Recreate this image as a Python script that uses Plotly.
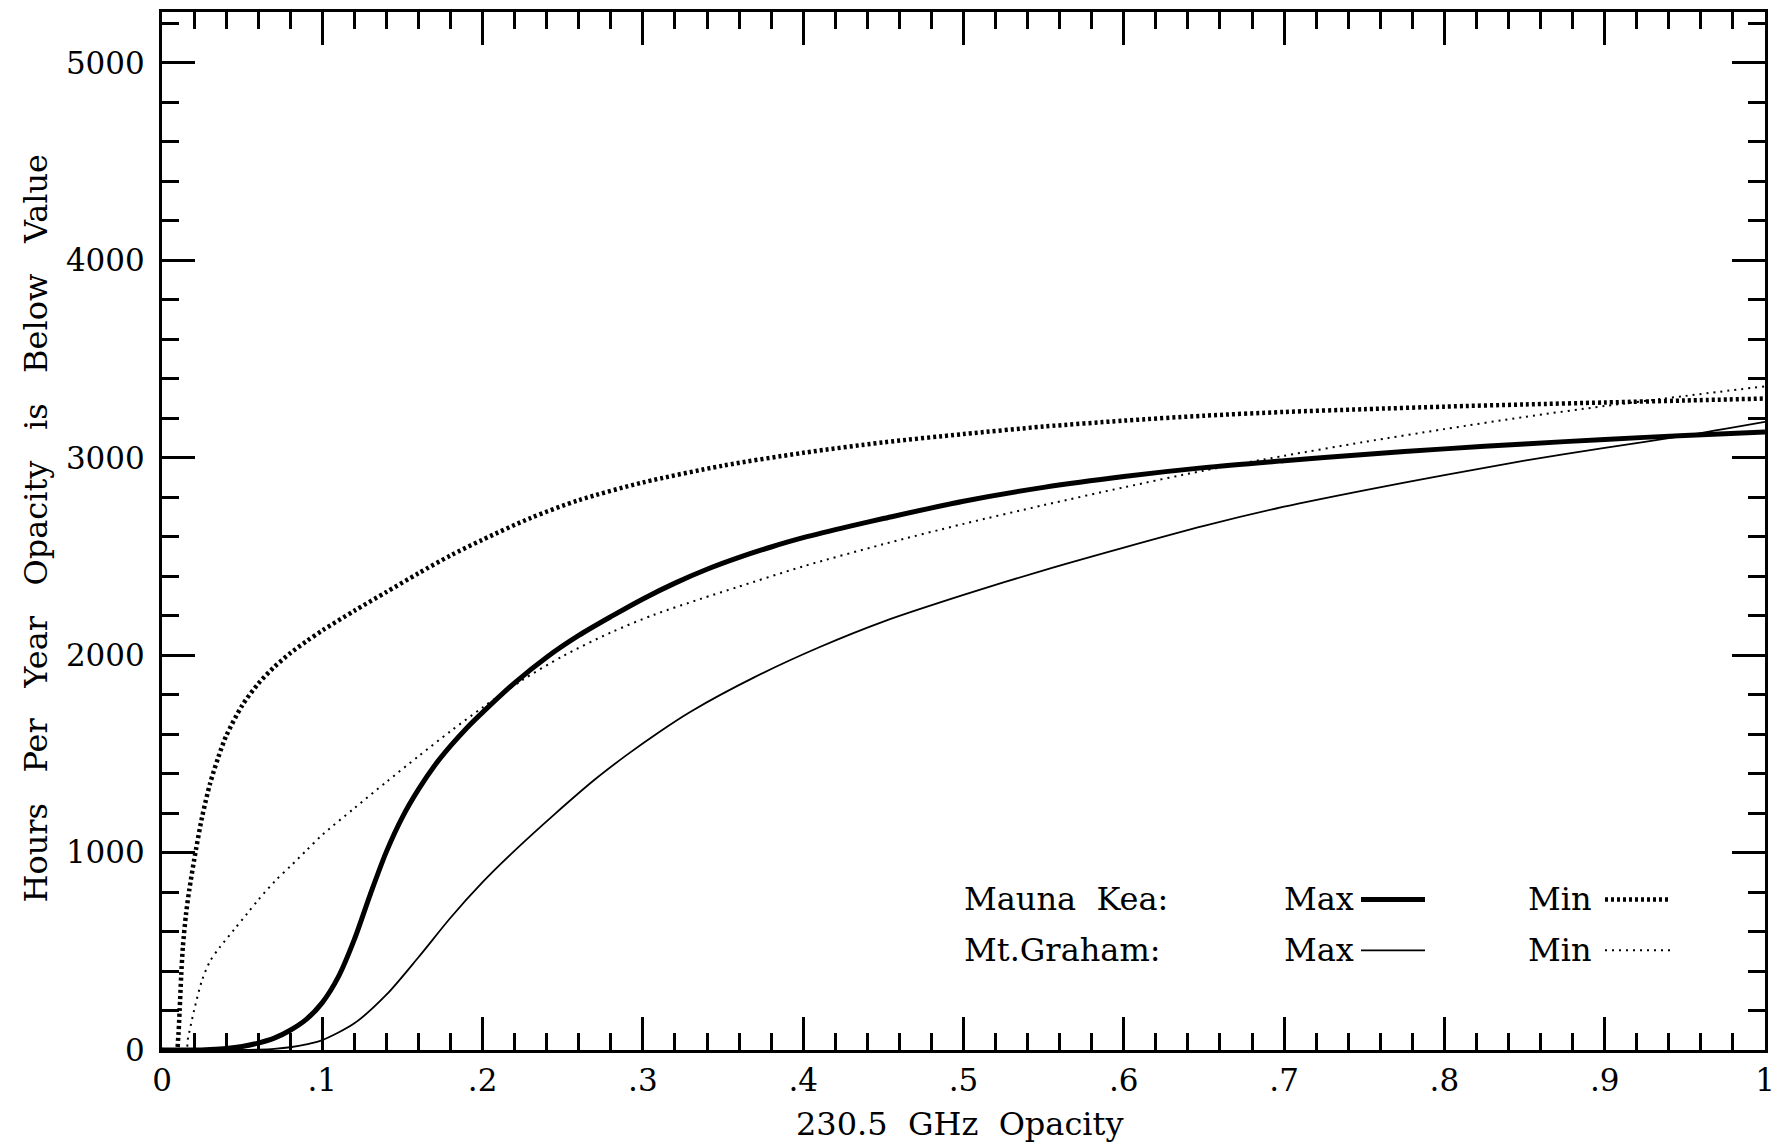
import plotly.graph_objects as go

# Cumulative hours per year with 230.5 GHz opacity below a given value
# Mauna Kea, maximum
mk_max_tau = [0.0, 0.02, 0.03, 0.04, 0.05, 0.06, 0.07, 0.08, 0.09, 0.10, 0.11, 0.12, 0.13,
              0.14, 0.15, 0.16, 0.17, 0.18, 0.19, 0.20, 0.22, 0.24, 0.26, 0.28, 0.30, 0.32,
              0.34, 0.36, 0.38, 0.40, 0.43, 0.45, 0.50, 0.55, 0.60, 0.65, 0.70, 0.75, 0.80,
              0.85, 0.90, 0.95, 1.00]
mk_max_hrs = [0, 0, 3, 8, 18, 35, 60, 100, 155, 240, 370, 560, 790,
              1005, 1180, 1320, 1440, 1540, 1630, 1710, 1860, 1990, 2100, 2195, 2285, 2365,
              2435, 2495, 2548, 2595, 2655, 2692, 2780, 2850, 2905, 2950, 2985, 3017, 3045,
              3070, 3093, 3113, 3131]

# Mauna Kea, minimum
mk_min_tau = [0.0, 0.009, 0.010, 0.011, 0.012, 0.013, 0.015, 0.017, 0.020, 0.025, 0.030,
              0.035, 0.040, 0.050, 0.060, 0.070, 0.080, 0.090, 0.100, 0.120, 0.140, 0.160,
              0.180, 0.200, 0.230, 0.260, 0.300, 0.350, 0.400, 0.450, 0.500, 0.550, 0.600,
              0.650, 0.700, 0.750, 0.800, 0.850, 0.900, 0.950, 1.000]
mk_min_hrs = [0, 0, 50, 200, 380, 520, 690, 810, 960, 1180, 1350,
              1480, 1590, 1745, 1855, 1940, 2010, 2070, 2125, 2225, 2320, 2415,
              2505, 2585, 2695, 2785, 2875, 2960, 3025, 3078, 3120, 3158, 3188,
              3213, 3232, 3246, 3259, 3270, 3280, 3290, 3300]

# Mt. Graham, maximum
mg_max_tau = [0.0, 0.05, 0.06, 0.07, 0.08, 0.09, 0.10, 0.12, 0.14, 0.16, 0.18, 0.20, 0.22,
              0.245, 0.27, 0.29, 0.31, 0.33, 0.37, 0.41, 0.45, 0.50, 0.55, 0.60, 0.65, 0.70,
              0.75, 0.80, 0.85, 0.90, 0.95, 1.00]
mg_max_hrs = [0, 0, 2, 6, 14, 28, 50, 135, 280, 470, 670, 850, 1010,
              1195, 1370, 1495, 1610, 1715, 1890, 2040, 2170, 2305, 2430, 2545, 2655, 2752,
              2835, 2912, 2985, 3050, 3112, 3182]

# Mt. Graham, minimum
mg_min_tau = [0.0, 0.015, 0.016, 0.020, 0.025, 0.030, 0.036, 0.045, 0.053, 0.060, 0.071,
              0.080, 0.090, 0.100, 0.120, 0.140, 0.160, 0.180, 0.200, 0.225, 0.250, 0.280,
              0.307, 0.336, 0.359, 0.40, 0.45, 0.50, 0.55, 0.60, 0.65, 0.70, 0.75, 0.80,
              0.85, 0.90, 0.95, 1.00]
mg_min_hrs = [0, 0, 50, 200, 354, 450, 520, 610, 690, 760, 860,
              930, 1010, 1090, 1225, 1358, 1488, 1615, 1735, 1875, 1995, 2115,
              2205, 2285, 2345, 2450, 2562, 2665, 2760, 2850, 2935, 3010, 3080, 3145,
              3207, 3262, 3313, 3362]

x_tick_vals = [0, 0.1, 0.2, 0.3, 0.4, 0.5, 0.6, 0.7, 0.8, 0.9, 1.0]
x_tick_text = ["0", ".1", ".2", ".3", ".4", ".5", ".6", ".7", ".8", ".9", "1"]
y_tick_vals = [0, 1000, 2000, 3000, 4000, 5000]

FONT = "DejaVu Serif"
INK = "black"
GAP = "\u00a0\u00a0 "

# line styles for the four series
styles = {
    "mk_max": dict(color=INK, width=5, dash="solid"),
    "mk_min": dict(color=INK, width=4.5, dash="3px,3px"),
    "mg_max": dict(color=INK, width=1.8, dash="solid"),
    "mg_min": dict(color=INK, width=2, dash="2px,5px"),
}

fig = go.Figure()
for tau, hrs, key in [
    (mg_max_tau, mg_max_hrs, "mg_max"),
    (mg_min_tau, mg_min_hrs, "mg_min"),
    (mk_max_tau, mk_max_hrs, "mk_max"),
    (mk_min_tau, mk_min_hrs, "mk_min"),
]:
    fig.add_trace(go.Scatter(x=tau, y=hrs, mode="lines", line=styles[key],
                             line_shape="spline", line_smoothing=0.8,
                             showlegend=False, hoverinfo="skip"))

axis_common = dict(
    showline=True, linecolor=INK, linewidth=3, mirror="allticks",
    ticks="inside", tickcolor=INK, tickwidth=2.5, ticklen=33,
    showgrid=False, zeroline=False,
    tickfont=dict(family=FONT, size=31, color=INK),
)

fig.update_xaxes(
    range=[0, 1], tickmode="array", tickvals=x_tick_vals, ticktext=x_tick_text,
    ticklabelstandoff=1,
    minor=dict(tickmode="linear", tick0=0, dtick=0.02, ticks="inside", ticklen=17,
               tickwidth=2.5, tickcolor=INK, showgrid=False),
    **axis_common,
)
fig.update_yaxes(
    range=[0, 5258], tickmode="array", tickvals=y_tick_vals,
    ticktext=[str(v) for v in y_tick_vals], ticklabelstandoff=8,
    minor=dict(tickmode="linear", tick0=0, dtick=200, ticks="inside", ticklen=17,
               tickwidth=2.5, tickcolor=INK, showgrid=False),
    **axis_common,
)

L, R, T, B = 162, 26, 9, 97
W, H = 1791, 1147
pw, ph = W - L - R, H - T - B


def px(x):
    return (x - L) / pw


def py(y):
    return (H - B - y) / ph


annotations = [
    dict(text="230.5\u00a0 GHz\u00a0 Opacity", x=px(960), y=py(1124), xref="paper", yref="paper",
         showarrow=False, xanchor="center", yanchor="middle",
         font=dict(family=FONT, size=32, color=INK)),
    dict(text=GAP.join(["Hours", "Per", "Year", "Opacity", "is", "Below", "Value"]),
         x=px(36), y=py(527), xref="paper", yref="paper", textangle=-90,
         showarrow=False, xanchor="center", yanchor="middle",
         font=dict(family=FONT, size=32, color=INK)),
]

legend_font = dict(family=FONT, size=32, color=INK)
rows = [("Mauna\u00a0 Kea:", 899, "mk_max", "mk_min"),
        ("Mt.Graham:", 950, "mg_max", "mg_min")]
shapes = []
for label, yy, kmax, kmin in rows:
    annotations.append(dict(text=label, x=px(962), y=py(yy), xref="paper", yref="paper",
                            showarrow=False, xanchor="left", yanchor="middle", font=legend_font))
    annotations.append(dict(text="Max", x=px(1282), y=py(yy), xref="paper", yref="paper",
                            showarrow=False, xanchor="left", yanchor="middle", font=legend_font))
    annotations.append(dict(text="Min", x=px(1526), y=py(yy), xref="paper", yref="paper",
                            showarrow=False, xanchor="left", yanchor="middle", font=legend_font))
    shapes.append(dict(type="line", xref="paper", yref="paper",
                       x0=px(1361), x1=px(1425), y0=py(yy), y1=py(yy), line=styles[kmax]))
    shapes.append(dict(type="line", xref="paper", yref="paper",
                       x0=px(1605), x1=px(1670), y0=py(yy), y1=py(yy), line=styles[kmin]))

fig.update_layout(
    width=W, height=H,
    margin=dict(l=L, r=R, t=T, b=B, pad=0),
    paper_bgcolor="white", plot_bgcolor="white",
    annotations=annotations, shapes=shapes,
    showlegend=False,
)

fig.write_html("out.html", config={"displayModeBar": False})
